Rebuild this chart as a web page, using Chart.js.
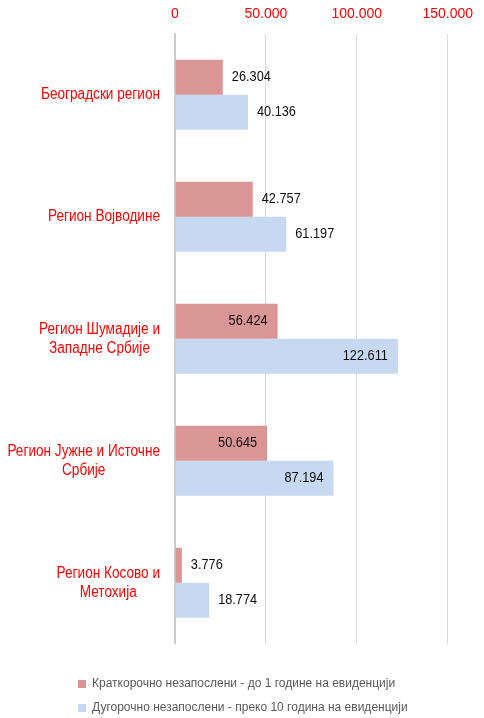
<!DOCTYPE html>
<html lang="sr">
<head>
  <meta charset="UTF-8">
  <title>Краткорочно и дугорочно незапослени по регионима</title>
  <script src="https://cdn.jsdelivr.net/npm/chart.js@4.4.1/dist/chart.umd.min.js"></script>
  <style>
    html, body { margin: 0; padding: 0; background: #fff; }
    #wrap { width: 484px; height: 718px; }
  </style>
</head>
<body>
  <div id="wrap"><canvas id="chart"></canvas></div>

  <script>
    // DATA
    const regions = [
      ["Београдски регион"],
      ["Регион Војводине"],
      ["Регион Шумадије и", "Западне Србије"],
      ["Регион Јужне и Источне", "Србије"],
      ["Регион Косово и", "Метохија"]
    ];
    const shortTerm = [26304, 42757, 56424, 50645, 3776];
    const longTerm = [40136, 61197, 122611, 87194, 18774];
    const seriesNames = [
      "Краткорочно незапослени - до 1 године на евиденцији",
      "Дугорочно незапослени - преко 10 година на евиденцији"
    ];
    const axisTicks = [0, 50000, 100000, 150000];

    const FONT = "'Liberation Sans', Arial, sans-serif";
    // no narrow font installed -> squeeze the custom drawn text a bit
    const SQUEEZE = 0.85;

    // 26304 -> "26.304"
    function fmt(v) {
      return String(v).replace(/\B(?=(\d{3})+(?!\d))/g, ".");
    }

    function narrowText(ctx, text, x, y) {
      ctx.save();
      ctx.translate(x, y);
      ctx.scale(SQUEEZE, 1);
      ctx.fillText(text, 0, 0);
      ctx.restore();
    }

    // value labels next to / inside the bar ends
    const barValues = {
      id: "barValues",
      afterDatasetsDraw(chart, args, opts) {
        const ctx = chart.ctx;
        ctx.save();
        ctx.font = opts.font;
        ctx.fillStyle = opts.color;
        ctx.textBaseline = "middle";
        chart.data.datasets.forEach((ds, d) => {
          chart.getDatasetMeta(d).data.forEach((bar, i) => {
            const inside = opts.inside[d][i];
            ctx.textAlign = inside ? "right" : "left";
            narrowText(ctx, fmt(ds.data[i]), inside ? bar.x - 10 : bar.x + 9, bar.y);
          });
        });
        ctx.restore();
      }
    };

    // category names: block right aligned to the axis, lines centered in the block
    const catLabels = {
      id: "catLabels",
      afterDraw(chart, args, opts) {
        const ctx = chart.ctx;
        const yScale = chart.scales.y;
        const right = chart.chartArea.left - opts.gap;
        ctx.save();
        ctx.font = opts.font;
        ctx.fillStyle = opts.color;
        ctx.textAlign = "center";
        ctx.textBaseline = "middle";
        chart.data.labels.forEach((lines, i) => {
          const yc = yScale.getPixelForValue(i);
          const w = Math.max(...lines.map(l => ctx.measureText(l).width)) * SQUEEZE;
          lines.forEach((l, k) => {
            narrowText(ctx, l, right - w / 2, yc + (k - (lines.length - 1) / 2) * opts.lineHeight);
          });
        });
        ctx.restore();
      }
    };

    new Chart("chart", {
      type: "bar",
      data: {
        labels: regions,
        datasets: [{
          label: seriesNames[0],
          data: shortTerm,
          backgroundColor: "#d99694",
          categoryPercentage: 0.574,
          barPercentage: 1
        }, {
          label: seriesNames[1],
          data: longTerm,
          backgroundColor: "#c6d9f0",
          categoryPercentage: 0.574,
          barPercentage: 1
        }]
      },
      options: {
        indexAxis: "y",
        responsive: true,
        maintainAspectRatio: false,
        animation: false,
        layout: { padding: { left: 66, right: 36, top: -5, bottom: -6 } },
        scales: {
          x: {
            position: "top",
            min: axisTicks[0],
            max: axisTicks[axisTicks.length - 1],
            ticks: {
              stepSize: axisTicks[1] - axisTicks[0],
              color: "#ff0000",
              padding: 11,
              font: { family: FONT, size: 14 },
              callback: v => fmt(v)
            },
            grid: { color: "#d9d9d9", drawTicks: false },
            border: { display: false }
          },
          y: {
            ticks: { display: false },
            grid: { display: false },
            border: { color: "#cccccc", width: 2 },
            afterFit: s => { s.width = 109; }
          }
        },
        plugins: {
          legend: {
            position: "bottom",
            align: "start",
            title: { display: true, text: "", font: { size: 1 }, padding: { top: 0, bottom: 21 } },
            labels: {
              boxWidth: 8,
              boxHeight: 8,
              padding: 12,
              color: "#595959",
              font: { family: FONT, size: 12 }
            }
          },
          tooltip: { enabled: false },
          barValues: {
            font: "15px " + FONT,
            color: "#0d0d0d",
            inside: [
              [false, false, true, true, false],
              [false, false, true, true, false]
            ]
          },
          catLabels: {
            font: "16px " + FONT,
            color: "#ff0000",
            gap: 15,
            lineHeight: 19
          }
        }
      },
      plugins: [barValues, catLabels]
    });
  </script>
</body>
</html>
